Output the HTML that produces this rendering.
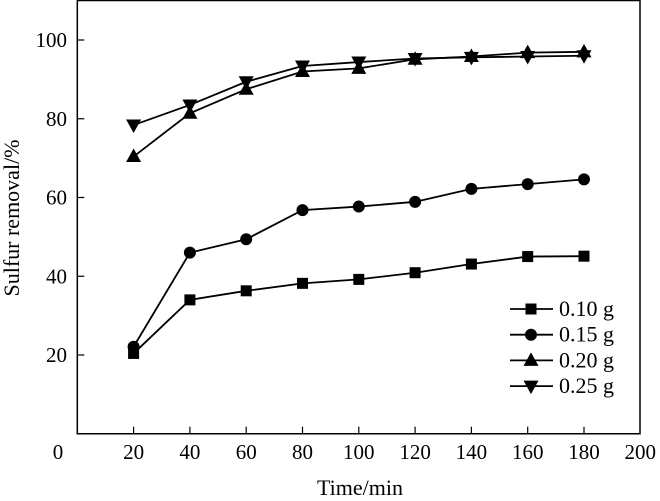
<!DOCTYPE html>
<html><head><meta charset="utf-8"><style>
html,body{margin:0;padding:0;background:#fff;}
svg{display:block;font-family:"Liberation Serif",serif;}
</style></head><body>
<svg id="chart" width="660" height="501" viewBox="0 0 660 501" xmlns="http://www.w3.org/2000/svg"></svg>
<script>
const times = [20,40,60,80,100,120,140,160,180];
const s010 = [20.4,34,36.3,38.2,39.2,40.9,43.1,45,45.1];
const s015 = [22.1,46,49.4,56.8,57.7,58.9,62.2,63.4,64.6];
const s020 = [70.4,81.4,87.5,92,92.8,95.1,95.8,96.8,97];
const s025 = [78.4,83.5,89.4,93.4,94.4,95.3,95.6,95.8,96];
const seriesNames = ["0.10 g","0.15 g","0.20 g","0.25 g"];
const xTicks = [20,40,60,80,100,120,140,160,180,200];
const yTicks = [20,40,60,80,100];

const svg = document.getElementById('chart');
const NS = 'http://www.w3.org/2000/svg';
const L=77.3, R=640, T=0.5, B=433.75;
const xs = v => L + v*(563/200);
const ys = v => B - v*3.9375;
function mk(tag, attrs, parent){const e=document.createElementNS(NS,tag);for(const k in attrs)e.setAttribute(k,attrs[k]);(parent||svg).appendChild(e);return e;}

const frame = mk('rect',{x:L,y:T,width:R-L,height:B-T,fill:'none',stroke:'#000','stroke-width':1.5});



xTicks.forEach(t=>{
  if(t<200){const tk=mk('line',{x1:xs(t),x2:xs(t),y1:B,y2:B-7,stroke:'#000','stroke-width':1.2});
  
  }
  const lb=mk('text',{x:xs(t),y:459,'text-anchor':'middle','font-size':21});
  lb.textContent=t;
  
  
});
const z=mk('text',{x:58,y:459,'text-anchor':'middle','font-size':21});z.textContent='0';


yTicks.forEach(t=>{
  const tk=mk('line',{x1:L,x2:L+7,y1:ys(t),y2:ys(t),stroke:'#000','stroke-width':1.2});
  
  
  const lb=mk('text',{x:67,y:ys(t)+7,'text-anchor':'end','font-size':21});
  lb.textContent=t;
  
  
});
const xt=mk('text',{x:360,y:495,'text-anchor':'middle','font-size':22});xt.textContent='Time/min';


const yt=mk('text',{x:0,y:0,'text-anchor':'middle','font-size':22,transform:'translate(19,218) rotate(-90)'});yt.textContent='Sulfur removal/%';



function marker(type,x,y,g){
  if(type==0) return mk('rect',{x:x-5.5,y:y-5.5,width:11,height:11,fill:'#000'},g);
  if(type==1) return mk('circle',{cx:x,cy:y,r:6,fill:'#000'},g);
  if(type==2) return mk('polygon',{points:`${x},${y-8} ${x-7.5},${y+5.5} ${x+7.5},${y+5.5}`,fill:'#000'},g);
  return mk('polygon',{points:`${x},${y+8} ${x-7.5},${y-5.5} ${x+7.5},${y-5.5}`,fill:'#000'},g);
}
const all=[s010,s015,s020,s025];
all.forEach((vals,si)=>{
  const g=mk('g',{});
  
  
  const pl=mk('polyline',{points:vals.map((v,i)=>xs(times[i])+','+ys(v)).join(' '),fill:'none',stroke:'#000','stroke-width':1.8},g);
  
  
  vals.forEach((v,i)=>{const m=marker(si,xs(times[i]),ys(v),g);
    
    });
});
const lg=mk('g',{});


seriesNames.forEach((n,i)=>{
  const y=309+i*25.7;
  const g=mk('g',{},lg);
  
  
  mk('line',{x1:510,x2:553,y1:y,y2:y,stroke:'#000','stroke-width':1.8},g);
  marker(i,531,y,g);
  const t=mk('text',{x:559,y:y+7,'font-size':22},g);t.textContent=n;
});
</script>
</body></html>
